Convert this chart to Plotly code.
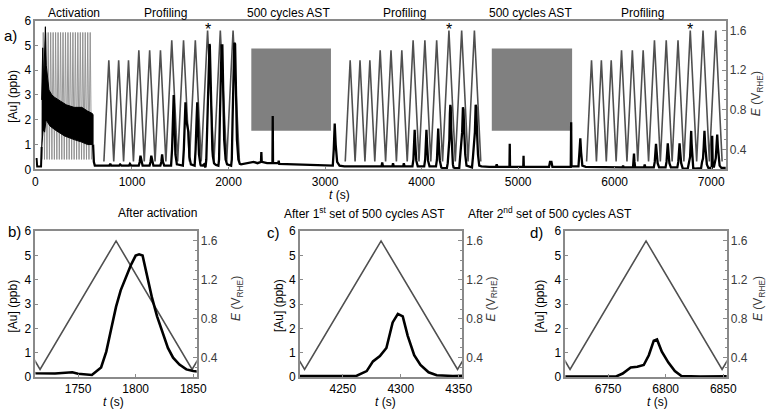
import plotly.graph_objects as go

W, H = 777, 418
FONT = "Liberation Sans, Arial, sans-serif"
AXC = "#8a8a8a"
EC = "#505050"

# ---------------- data ----------------
# Activation potential cycling (vertex times / potentials)
act_E_t = [68, 80.8, 93.6, 106.4, 119.2, 132, 144.8, 157.6, 170.4, 183.2, 196, 208.8, 221.6,
           234.4, 247.2, 260, 272.8, 285.6, 298.4, 311.2, 324, 336.8, 349.6, 362.4, 375.2,
           388, 400.8, 413.6, 426.4, 439.2, 452, 464.8, 477.6, 490.4, 503.2, 516, 528.8,
           541.6, 554.4, 567.2, 580]
act_E_v = [0.3, 1.58, 0.3, 1.58, 0.3, 1.58, 0.3, 1.58, 0.3, 1.58, 0.3, 1.58, 0.3, 1.58, 0.3,
           1.58, 0.3, 1.58, 0.3, 1.58, 0.3, 1.58, 0.3, 1.58, 0.3, 1.58, 0.3, 1.58, 0.3, 1.58,
           0.3, 1.58, 0.3, 1.58, 0.3, 1.58, 0.3, 1.58, 0.3, 1.58, 0.3]

# Profiling potential vertices
prof_E_v = [0.28, 1.3, 0.28, 1.3, 0.28, 1.3, 0.28, 1.4, 0.28, 1.4, 0.28, 1.4, 0.28,
            1.5, 0.28, 1.5, 0.28, 1.5, 0.28, 1.6, 0.28, 1.6, 0.28, 1.6, 0.28]
prof1_E_t = [709, 760, 811, 862, 913, 964, 1015, 1071, 1127, 1183, 1239, 1295, 1351,
             1412, 1473, 1534, 1595, 1656, 1717, 1783, 1849, 1915, 1981, 2047, 2113]
prof2_E_t = [3209, 3260, 3311, 3362, 3413, 3464, 3515, 3571, 3627, 3683, 3739, 3795, 3851,
             3912, 3973, 4034, 4095, 4156, 4217, 4283, 4349, 4415, 4481, 4547, 4613]
prof3_E_t = [5709, 5760, 5811, 5862, 5913, 5964, 6015, 6071, 6127, 6183, 6239, 6295, 6351,
             6412, 6473, 6534, 6595, 6656, 6717, 6783, 6849, 6915, 6981, 7047, 7113]

# [Au] signal
au_pre = [(0, 0.42), (12, 0.42), (18, 0.12), (58, 0.12), (64, 0.9)]
act_band_upper = [(64, 2.8), (75, 4.9), (85, 3.5), (95, 4.5), (103, 5.75), (112, 4.2), (125, 3.6),
                  (140, 3.2), (170, 3.0), (200, 2.9), (260, 2.75), (320, 2.6), (400, 2.5),
                  (480, 2.5), (540, 2.35), (590, 2.25), (597, 2.2)]
act_band_lower = [(597, 1.0), (540, 1.0), (480, 1.1), (400, 1.2), (300, 1.35), (200, 1.6),
                  (150, 1.75), (110, 2.0), (95, 1.5), (80, 1.6), (68, 0.9), (64, 0.9)]
au_prof1 = [(597, 1.0), (605, 0.3), (615, 0.15), (700, 0.15), (765, 0.15), (775, 0.22), (785, 0.15),
            (867, 0.15), (877, 0.2), (890, 0.15), (969, 0.15), (979, 0.22), (992, 0.15),
            (1070, 0.15), (1080, 0.3), (1088, 0.55), (1097, 0.3), (1110, 0.15),
            (1182, 0.15), (1192, 0.3), (1200, 0.55), (1209, 0.3), (1222, 0.15),
            (1294, 0.15), (1304, 0.3), (1312, 0.6), (1321, 0.3), (1334, 0.15),
            (1405, 0.15), (1415, 0.8), (1425, 2.2), (1432, 3.0), (1440, 1.8), (1450, 0.6), (1465, 0.2),
            (1527, 0.15), (1537, 0.8), (1547, 2.0), (1554, 2.7), (1562, 2.0), (1575, 1.7), (1585, 1.5),
            (1595, 0.5), (1610, 0.2),
            (1649, 0.15), (1659, 0.8), (1669, 2.0), (1676, 2.7), (1684, 1.7), (1694, 0.6), (1709, 0.2),
            (1713, 0.16), (1730, 0.15), (1745, 0.2), (1750, 0.14), (1762, 0.09), (1770, 0.4),
            (1774.5, 1.05), (1778.7, 1.97), (1783, 2.9), (1787, 3.57), (1791.5, 4.1), (1795.8, 4.6),
            (1800, 5.0), (1803, 5.05), (1806, 5.0), (1810, 4.1), (1814, 3.3), (1818.6, 2.5),
            (1824, 1.7), (1828, 1.2), (1832.5, 0.8), (1838, 0.52), (1844, 0.32), (1850, 0.25),
            (1856, 0.22), (1870, 0.18),
            (1895, 0.15), (1902, 0.4), (1910, 2.0), (1918, 3.5), (1928, 5.0), (1936, 5.0), (1944, 3.3),
            (1955, 1.2), (1970, 0.4), (1985, 0.2),
            (2027, 0.15), (2034, 0.4), (2042, 2.0), (2050, 3.6), (2060, 5.1), (2068, 5.05), (2076, 3.3),
            (2087, 1.2), (2102, 0.4), (2117, 0.22)]
au_ast1 = [(2130, 0.2), (2200, 0.25), (2260, 0.3), (2300, 0.25), (2336, 0.3), (2340, 0.7), (2344, 0.3),
           (2400, 0.25), (2455, 0.25), (2458, 2.15), (2461, 0.25), (2515, 0.25), (2520, 0.35),
           (2525, 0.22), (2700, 0.2), (2900, 0.15), (3080, 0.15), (3090, 0.8), (3100, 1.85),
           (3110, 1.0), (3125, 0.3), (3150, 0.15)]
au_prof2 = [(3200, 0.12), (3585, 0.12), (3592, 0.28), (3600, 0.12), (3697, 0.12), (3704, 0.25),
            (3712, 0.12), (3809, 0.12), (3816, 0.25), (3824, 0.12),
            (3905, 0.12), (3915, 0.4), (3922, 1.2), (3928, 1.6), (3935, 1.0), (3945, 0.35), (3960, 0.12),
            (4027, 0.12), (4037, 0.4), (4044, 1.2), (4050, 1.6), (4057, 1.0), (4067, 0.35), (4082, 0.12),
            (4149, 0.12), (4159, 0.4), (4166, 1.2), (4172, 1.65), (4179, 1.0), (4189, 0.35), (4204, 0.08),
            (4213, 0.06), (4240, 0.05), (4262, 0.06), (4270.6, 0.25), (4276, 0.65), (4282, 0.87),
            (4287.6, 1.2), (4293, 2.25), (4297.5, 2.6), (4301.7, 2.5), (4306, 1.7), (4311.6, 0.9),
            (4317, 0.5), (4324, 0.2), (4331, 0.08), (4345, 0.05),
            (4390, 0.06), (4400, 0.5), (4410, 0.9), (4420, 1.5), (4428, 2.5), (4434, 2.4), (4442, 1.5),
            (4452, 0.6), (4465, 0.15),
            (4522, 0.08), (4532, 0.5), (4542, 0.9), (4552, 1.5), (4560, 2.6), (4566, 2.5), (4574, 1.5),
            (4584, 0.6), (4597, 0.15)]
au_ast2 = [(4620, 0.12), (4700, 0.1), (4770, 0.1), (4778, 0.2), (4786, 0.1), (4910, 0.1), (4913, 1.03),
           (4916, 0.1), (5053, 0.1), (5056, 0.55), (5059, 0.1), (5320, 0.1), (5330, 0.3), (5345, 0.3),
           (5355, 0.1), (5545, 0.1), (5549, 1.9), (5553, 0.12), (5625, 0.12), (5635, 0.7),
           (5644, 1.25), (5652, 0.7), (5665, 0.15)]
au_prof3 = [(5700, 0.1), (6080, 0.08), (6087, 0.15), (6094, 0.08), (6190, 0.08), (6196, 0.3),
            (6200, 0.64), (6205, 0.3), (6212, 0.08), (6304, 0.08), (6311, 0.2), (6318, 0.08),
            (6405, 0.08), (6415, 0.3), (6422, 0.8), (6428, 1.03), (6435, 0.7), (6445, 0.25), (6460, 0.08),
            (6527, 0.08), (6537, 0.3), (6544, 0.8), (6550, 1.05), (6557, 0.7), (6567, 0.25), (6582, 0.08),
            (6649, 0.08), (6659, 0.3), (6666, 0.8), (6672, 1.05), (6679, 0.7), (6689, 0.25), (6704, 0.05),
            (6713, 0.03), (6757, 0.03), (6762.7, 0.15), (6769.7, 0.4), (6775.4, 0.43), (6781, 0.5),
            (6785.4, 0.9), (6789.7, 1.5), (6792.5, 1.55), (6796.7, 1.05), (6802.4, 0.6), (6808, 0.25),
            (6813.7, 0.05), (6830, 0.03), (6860, 0.04),
            (6895, 0.05), (6905, 0.3), (6915, 0.45), (6922, 0.9), (6930, 1.55), (6937, 1.0), (6945, 0.5),
            (6955, 0.2), (6970, 0.06), (7005, 0.06), (7010, 1.35), (7015, 0.3),
            (7027, 0.08), (7037, 0.3), (7047, 0.45), (7054, 0.9), (7062, 1.4), (7069, 0.9), (7077, 0.4),
            (7087, 0.15), (7105, 0.06), (7160, 0.06)]

ast_periods = [(2236, 3061), (4727, 5559)]
star_times = [1783, 4283, 6783]
stage_labels = ["Activation", "Profiling", "500 cycles AST", "Profiling", "500 cycles AST", "Profiling"]
stage_centers = [400, 1346, 2620, 3823, 5127, 6290]
zoom_titles = ["After activation", "After 1<sup>st</sup> set of 500 cycles AST",
               "After 2<sup>nd</sup> set of 500 cycles AST"]
zoom_ranges = [(1713, 1853), (4213, 4353), (6713, 6853)]
zoom_ticks = [[1750, 1800, 1850], [4250, 4300, 4350], [6750, 6800, 6850]]

# ---------------- assemble series ----------------
def unz(pairs):
    return [p[0] for p in pairs], [p[1] for p in pairs]

E_t = prof1_E_t + [None] + prof2_E_t + [None] + prof3_E_t
E_v = prof_E_v + [None] + prof_E_v + [None] + prof_E_v
au_main = au_prof1 + au_ast1 + au_prof2 + au_ast2 + au_prof3
au_t, au_v = unz(au_main)
pre_t, pre_v = unz(au_pre)
band_t, band_v = unz(act_band_upper + act_band_lower)

def X(p): return p / W
def Y(p): return 1 - p / H

# panel geometry (pixels)
panels = [
    dict(x=(33, 735), y=(14, 168)),
    dict(x=(33, 197), y=(232, 383)),
    dict(x=(302, 467), y=(232, 383)),
    dict(x=(572, 736), y=(232, 383)),
]

fig = go.Figure()
layout = dict(width=W, height=H, autosize=False, margin=dict(l=0, r=0, t=0, b=0),
              paper_bgcolor="white", plot_bgcolor="white", showlegend=False,
              font=dict(family=FONT, size=12, color="black"))

tickfont = dict(family=FONT, size=12, color="black")
for i, p in enumerate(panels):
    n = i + 1
    xa = "xaxis" if n == 1 else f"xaxis{n}"
    ya_e = "yaxis" if n == 1 else f"yaxis{2*n-1}"
    ya_a = f"yaxis{2*n}"
    xr = "x" if n == 1 else f"x{n}"
    yr_e = "y" if n == 1 else f"y{2*n-1}"
    yr_a = f"y{2*n}"
    if i == 0:
        xrange = [0, 7150]
        xt = dict(tick0=0, dtick=1000)
    else:
        xrange = list(zoom_ranges[i-1])
        xt = dict(tickmode="array", tickvals=zoom_ticks[i-1])
    layout[xa] = dict(domain=[X(p["x"][0]), X(p["x"][1])], anchor=yr_e, range=xrange,
                      showline=True, linecolor=AXC, linewidth=1.5, mirror=True,
                      ticks="inside", ticklen=3, tickcolor=AXC, showgrid=False, zeroline=False,
                      tickfont=tickfont, **xt)
    layout[ya_e] = dict(domain=[Y(p["y"][1]), Y(p["y"][0])], anchor=xr, side="right",
                        range=[0.2, 1.7], tick0=0.4, dtick=0.4, tickformat=".1f",
                        showline=True, linecolor=AXC, linewidth=1.5, ticks="inside",
                        ticklen=4, tickcolor=AXC, showgrid=False, zeroline=False,
                        minor=dict(dtick=0.1, ticks="inside", ticklen=2, tickcolor=AXC),
                        tickfont=dict(family=FONT, size=12, color="#3a3a3a"))
    layout[ya_a] = dict(overlaying=yr_e, anchor=xr, side="left", range=[0, 6], dtick=1,
                        showline=True, linecolor=AXC, linewidth=1.5, ticks="inside",
                        ticklen=3, tickcolor=AXC, showgrid=False, zeroline=False,
                        tickfont=tickfont)

    # potential
    fig.add_trace(go.Scatter(x=E_t, y=E_v, xaxis=xr, yaxis=yr_e, mode="lines",
                             line=dict(color=EC, width=1.6), hoverinfo="skip"))
    if i == 0:
        fig.add_trace(go.Scatter(x=act_E_t, y=act_E_v, xaxis=xr, yaxis=yr_e, mode="lines",
                                 line=dict(color="#8c8c8c", width=0.9), hoverinfo="skip"))
        fig.add_trace(go.Scatter(x=band_t, y=band_v, xaxis=xr, yaxis=yr_a, mode="lines",
                                 fill="toself", fillcolor="black",
                                 line=dict(color="black", width=1), hoverinfo="skip"))
        fig.add_trace(go.Scatter(x=pre_t, y=pre_v, xaxis=xr, yaxis=yr_a, mode="lines",
                                 line=dict(color="black", width=2), hoverinfo="skip"))
    fig.add_trace(go.Scatter(x=au_t, y=au_v, xaxis=xr, yaxis=yr_a, mode="lines",
                             line=dict(color="black", width=2.3 if i == 0 else 2.6),
                             hoverinfo="skip"))

fig.update_layout(**layout)

# AST boxes
for (a, b) in ast_periods:
    fig.add_shape(type="rect", xref="x", yref="y", x0=a, x1=b, y0=0.59, y1=1.4175,
                  fillcolor="#808080", line=dict(width=0), layer="below")

ann = []
# stage labels
for lab, c in zip(stage_labels, stage_centers):
    ann.append(dict(text=lab, x=c, xref="x", y=Y(6), yref="paper", showarrow=False,
                    font=dict(size=12, family=FONT), yanchor="middle"))
# stars
for s in star_times:
    ann.append(dict(text="*", x=s, xref="x", y=5.62, yref="y2", showarrow=False,
                    font=dict(size=16, family=FONT), yanchor="middle"))
# panel letters
for lab, (px, py) in zip(["a)", "b)", "c)", "d)"], [(8, 29), (12, 232), (275, 233), (543, 233)]):
    ann.append(dict(text=lab, x=X(px), y=Y(py), xref="paper", yref="paper", showarrow=False,
                    font=dict(size=15, family=FONT), xanchor="center", yanchor="middle"))
# zoom titles
for lab, px in zip(zoom_titles, [115, 368, 642]):
    ann.append(dict(text=lab, x=X(px), y=Y(213), xref="paper", yref="paper", showarrow=False,
                    font=dict(size=12, family=FONT), yanchor="middle"))
# axis titles
au_title = "[Au] (ppb)"
e_title = "<i>E</i> (V<sub>RHE</sub>)"
t_title = "<i>t</i> (s)"
for px, py in [(10, 92), (10, 309), (280, 309), (546, 309)]:
    ann.append(dict(text=au_title, x=X(px), y=Y(py), xref="paper", yref="paper", showarrow=False,
                    textangle=-90, font=dict(size=12, family=FONT), xanchor="center", yanchor="middle"))
for px, py in [(767, 90), (238, 302), (497, 302), (769, 302)]:
    ann.append(dict(text=e_title, x=X(px), y=Y(py), xref="paper", yref="paper", showarrow=False,
                    textangle=-90, font=dict(size=12, family=FONT, color="#3a3a3a"),
                    xanchor="center", yanchor="middle"))
for px, py in [(342, 195), (112, 409), (389, 409), (666, 409)]:
    ann.append(dict(text=t_title, x=X(px), y=Y(py), xref="paper", yref="paper", showarrow=False,
                    font=dict(size=12, family=FONT), xanchor="center", yanchor="middle",
                    borderpad=0))
fig.update_layout(annotations=ann)

fig.write_html("out.html", config={"displayModeBar": False},
               post_script="document.body.style.margin='0px';document.body.style.overflow='hidden';")
